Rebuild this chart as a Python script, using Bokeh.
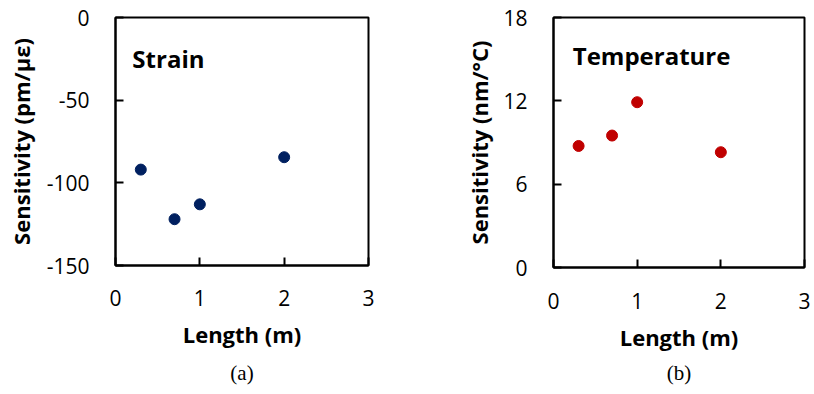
from bokeh.plotting import figure
from bokeh.layouts import row
from bokeh.models import FixedTicker, Label, Title, Range1d
from bokeh.embed import file_html
from bokeh.resources import INLINE

# ---- data ----
length_m = [0.3, 0.7, 1.0, 2.0]
strain_sens = [-92, -122, -113, -84.5]
temp_sens = [8.75, 9.5, 11.9, 8.3]

x_ticks = [0, 1, 2, 3]
strain_ticks = [-150, -100, -50, 0]
temp_ticks = [0, 6, 12, 18]

FONT = "Open Sans"


def make_panel(y_lo, y_hi, y_ticks, ys, color, ylabel, tag, inset, inset_xy,
               borders, fw, fh, ylab_standoff, xtick_standoff, tag_standoff):
    bl, br, bt, bb = borders
    p = figure(frame_width=fw, frame_height=fh,
               x_range=Range1d(0, 3), y_range=Range1d(y_lo, y_hi),
               output_backend="svg", toolbar_location=None,
               min_border_left=bl, min_border_right=br,
               min_border_top=bt, min_border_bottom=bb)
    p.background_fill_color = "white"
    p.border_fill_color = "white"
    p.outline_line_color = "black"
    p.outline_line_width = 2
    p.outline_line_alpha = 1
    p.xgrid.visible = False
    p.ygrid.visible = False

    for ax in (p.xaxis[0], p.yaxis[0]):
        ax.axis_line_width = 2
        ax.axis_line_color = "black"
        ax.major_tick_in = 8
        ax.major_tick_out = 0
        ax.minor_tick_in = 0
        ax.minor_tick_out = 0
        ax.major_tick_line_width = 2
        ax.major_tick_line_color = "black"
        ax.major_label_text_font = FONT
        ax.major_label_text_font_size = "21px"
        ax.major_label_text_color = "black"
        ax.axis_label_text_font = FONT
        ax.axis_label_text_font_size = "22px"
        ax.axis_label_text_font_style = "bold"
        ax.axis_label_text_color = "black"

    p.xaxis.ticker = FixedTicker(ticks=x_ticks)
    p.yaxis.ticker = FixedTicker(ticks=y_ticks)
    p.xaxis.major_label_overrides = {t: str(t) for t in x_ticks}
    p.yaxis.major_label_overrides = {t: str(t) for t in y_ticks}
    p.xaxis.axis_label = "Length (m)"
    p.yaxis.axis_label = ylabel
    p.xaxis.major_label_standoff = xtick_standoff
    p.yaxis.major_label_standoff = 26
    p.xaxis.axis_label_standoff = 10
    p.yaxis.axis_label_standoff = ylab_standoff

    p.scatter(length_m, ys, size=11, color=color, line_color=color)

    p.add_layout(Label(x=inset_xy[0], y=inset_xy[1], text=inset,
                       text_font=FONT, text_font_style="bold",
                       text_font_size="24px", text_color="black",
                       text_baseline="middle"))

    p.add_layout(Title(text=tag, align="center", text_font="Liberation Serif",
                       text_font_size="21px", text_font_style="normal",
                       text_color="black", standoff=tag_standoff), "below")
    return p


pa = make_panel(-150, 0, strain_ticks, strain_sens, "#002060",
                "Sensitivity (pm/\u03bc\u03b5)", "(a)", "Strain", (0.2, -24.5),
                (115, 42, 17, 129), 253, 248, 8, 24, 15)
pb = make_panel(0, 18, temp_ticks, temp_sens, "#C00000",
                "Sensitivity (nm/\u00b0C)", "(b)", "Temperature", (0.23, 15.23),
                (143, 10, 17, 127), 251, 250, 6, 25, 8)

layout = row(pa, pb)
open("out.html", "w").write(file_html(layout, INLINE))
